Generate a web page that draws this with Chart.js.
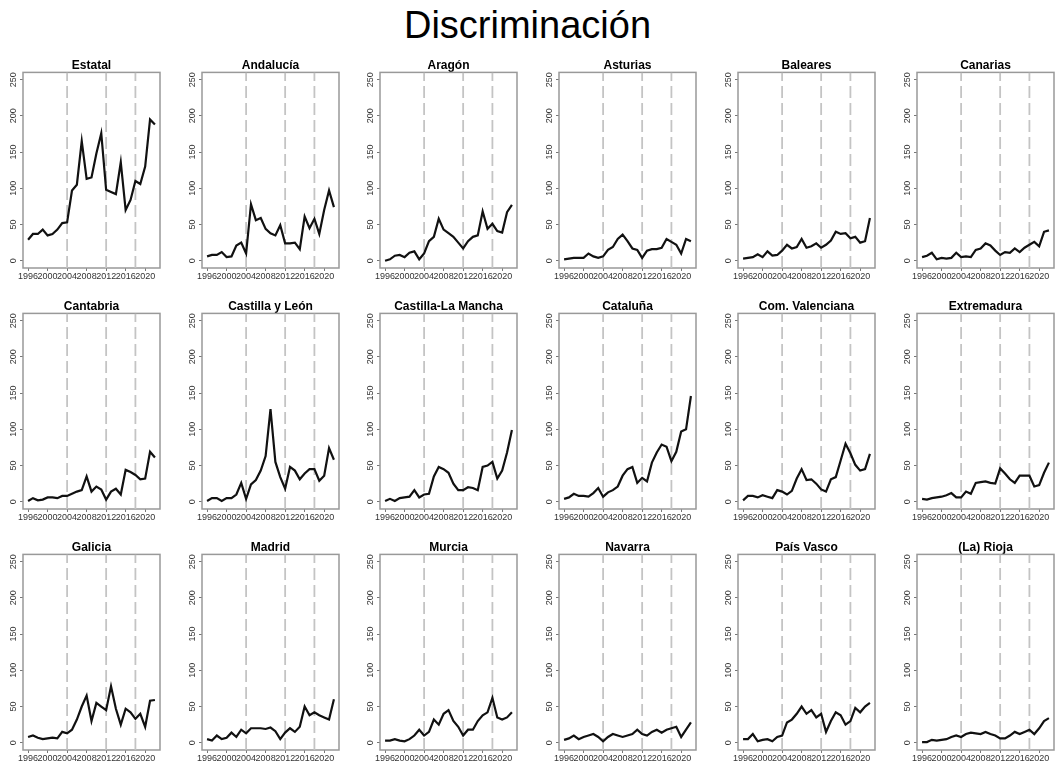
<!DOCTYPE html>
<html>
<head>
<meta charset="utf-8">
<script src="https://cdn.jsdelivr.net/npm/chart.js@4/dist/chart.umd.min.js"></script>
<style>
  html, body { margin: 0; padding: 0; background: #fff; }
  body { width: 1055px; height: 764px; position: relative; overflow: hidden; font-family: "Liberation Sans", Arial, sans-serif; }
  #mainTitle { position: absolute; left: 0; width: 1055px; top: 2px; text-align: center; font-size: 38px; line-height: 46px; color: #000; }
  canvas { position: absolute; }
</style>
</head>
<body>
<div id="mainTitle">Discriminación</div>
<script>
// ---- data ----
const years = [1996, 1997, 1998, 1999, 2000, 2001, 2002, 2003, 2004, 2005, 2006, 2007, 2008, 2009,
               2010, 2011, 2012, 2013, 2014, 2015, 2016, 2017, 2018, 2019, 2020, 2021, 2022];
const breakYears = [2004, 2012, 2018];
const xTickLabels = [1996, 2000, 2004, 2008, 2012, 2016, 2020];
const yTickValues = [0, 50, 100, 150, 200, 250];

const regions = ['Estatal', 'Andalucía', 'Aragón', 'Asturias', 'Baleares', 'Canarias',
                 'Cantabria', 'Castilla y León', 'Castilla-La Mancha', 'Cataluña', 'Com. Valenciana', 'Extremadura',
                 'Galicia', 'Madrid', 'Murcia', 'Navarra', 'País Vasco', '(La) Rioja'];

const estatal        = [29, 37, 37, 43, 35, 37, 43, 52, 53, 97, 105, 165, 113, 115, 148, 176, 98, 95, 92, 136, 70, 84, 110, 106, 130, 195, 188];
const andalucia      = [6, 8, 8, 12, 5, 6, 21, 25, 10, 78, 56, 59, 44, 38, 35, 49, 24, 24, 25, 16, 61, 45, 58, 37, 70, 97, 74];
const aragon         = [0, 2, 7, 8, 5, 11, 13, 2, 10, 27, 33, 58, 43, 38, 33, 25, 17, 27, 33, 35, 68, 44, 51, 41, 39, 67, 77];
const asturias       = [2, 3, 4, 4, 4, 10, 6, 4, 6, 15, 19, 30, 36, 27, 17, 15, 4, 14, 16, 16, 18, 30, 26, 22, 10, 30, 27];
const baleares       = [3, 4, 5, 9, 5, 13, 7, 8, 14, 22, 17, 19, 30, 18, 20, 24, 18, 22, 28, 40, 37, 38, 31, 33, 25, 27, 59];
const canarias       = [5, 7, 11, 2, 4, 3, 4, 11, 5, 6, 5, 15, 17, 24, 21, 14, 8, 12, 11, 17, 12, 18, 22, 26, 20, 40, 42];
const cantabria      = [1, 5, 2, 3, 6, 6, 5, 8, 8, 11, 14, 16, 35, 14, 21, 17, 3, 14, 18, 10, 44, 41, 37, 31, 32, 69, 61];
const castillaLeon   = [1, 5, 5, 1, 5, 5, 10, 26, 4, 24, 30, 43, 63, 128, 55, 34, 18, 48, 43, 31, 39, 45, 45, 29, 36, 74, 58];
const castillaMancha = [1, 4, 1, 5, 6, 7, 16, 6, 10, 11, 35, 48, 45, 40, 25, 16, 16, 20, 19, 16, 48, 50, 55, 32, 43, 68, 99];
const cataluna       = [4, 6, 11, 8, 8, 7, 12, 19, 7, 13, 16, 21, 36, 45, 48, 26, 33, 28, 54, 68, 79, 76, 56, 69, 97, 100, 146];
const valenciana     = [2, 8, 8, 6, 9, 7, 5, 16, 14, 10, 15, 32, 45, 30, 31, 25, 17, 14, 31, 34, 57, 80, 67, 51, 43, 45, 66];
const extremadura    = [4, 3, 5, 6, 7, 9, 12, 6, 6, 14, 11, 26, 27, 28, 26, 25, 46, 39, 31, 26, 36, 36, 36, 21, 23, 40, 54];
const galicia        = [8, 10, 7, 5, 6, 7, 6, 15, 13, 18, 32, 50, 65, 30, 55, 50, 45, 78, 47, 25, 47, 42, 33, 40, 22, 58, 59];
const madrid         = [5, 3, 10, 5, 7, 14, 8, 18, 13, 20, 20, 20, 19, 21, 16, 5, 14, 20, 15, 22, 50, 38, 42, 38, 35, 32, 60];
const murcia         = [3, 3, 5, 3, 2, 5, 10, 18, 10, 15, 32, 25, 40, 45, 30, 22, 10, 18, 18, 30, 38, 42, 62, 35, 32, 35, 42];
const navarra        = [4, 6, 10, 5, 8, 10, 12, 8, 2, 8, 12, 10, 8, 10, 12, 18, 12, 10, 15, 18, 14, 18, 20, 22, 8, 18, 28];
const paisVasco      = [5, 5, 12, 2, 4, 5, 2, 8, 10, 28, 32, 40, 50, 40, 45, 35, 40, 15, 30, 42, 38, 25, 30, 48, 42, 50, 55];
const rioja          = [1, 1, 4, 3, 4, 5, 8, 10, 8, 12, 14, 13, 12, 15, 12, 10, 6, 6, 10, 15, 12, 15, 18, 12, 20, 30, 34];

const series = [estatal, andalucia, aragon, asturias, baleares, canarias,
                cantabria, castillaLeon, castillaMancha, cataluna, valenciana, extremadura,
                galicia, madrid, murcia, navarra, paisVasco, rioja];

// ---- layout ----
const FONT = '"Liberation Sans", Arial, sans-serif';
const CANVAS_W = 178, CANVAS_H = 230;
const COL_STEP = 178.7, ROW_STEP = 241, TOP0 = 56;

const framePlugin = {
  id: 'frame',
  beforeDatasetsDraw(chart) {
    const a = chart.chartArea, ctx = chart.ctx;
    ctx.save();
    ctx.strokeStyle = '#999999';
    ctx.lineWidth = 1.5;
    ctx.strokeRect(a.left, a.top, a.right - a.left, a.bottom - a.top);
    ctx.restore();
  }
};

regions.forEach((name, i) => {
  const col = i % 6, row = Math.floor(i / 6);
  const cv = document.createElement('canvas');
  cv.width = CANVAS_W; cv.height = CANVAS_H;
  cv.style.width = CANVAS_W + 'px'; cv.style.height = CANVAS_H + 'px';
  cv.style.left = Math.round(col * COL_STEP) + 'px';
  cv.style.top = (TOP0 + row * ROW_STEP) + 'px';
  document.body.appendChild(cv);

  const datasets = [{
    data: years.map((y, k) => ({ x: y, y: series[i][k] })),
    borderColor: '#111111',
    borderWidth: 2.2,
    pointRadius: 0,
    tension: 0,
    fill: false,
    order: 0
  }];
  breakYears.forEach(b => {
    datasets.push({
      data: [{ x: b, y: -10 }, { x: b, y: 260 }],
      borderColor: '#c4c4c4',
      borderWidth: 1.8,
      borderDash: [12, 5],
      pointRadius: 0,
      fill: false,
      order: 1
    });
  });

  new Chart(cv, {
    type: 'line',
    data: { datasets },
    options: {
      responsive: false,
      animation: false,
      devicePixelRatio: 1,
      layout: { padding: { left: 0, right: 18, top: 0, bottom: 0 } },
      plugins: {
        legend: { display: false },
        tooltip: { enabled: false },
        title: {
          display: true,
          text: name,
          fullSize: false,
          color: '#000',
          font: { family: FONT, size: 12, weight: 'bold', lineHeight: 1.2 },
          padding: { top: 2, bottom: 0 }
        }
      },
      scales: {
        x: {
          type: 'linear',
          min: 1994.96,
          max: 2023.04,
          afterBuildTicks: s => { s.ticks = xTickLabels.map(v => ({ value: v })); },
          afterFit: s => { s.height = 18; },
          border: { display: false },
          grid: { drawOnChartArea: false, drawTicks: true, tickLength: 3, color: '#777777', lineWidth: 1 },
          ticks: {
            autoSkip: false, maxRotation: 0, minRotation: 0, padding: 0,
            color: '#333333',
            font: { family: FONT, size: 9 },
            callback: v => String(v)
          }
        },
        y: {
          type: 'linear',
          min: -10,
          max: 260,
          afterBuildTicks: s => { s.ticks = yTickValues.map(v => ({ value: v })); },
          afterFit: s => { s.width = 23; },
          border: { display: false },
          grid: { drawOnChartArea: false, drawTicks: true, tickLength: 3, color: '#777777', lineWidth: 1 },
          ticks: {
            autoSkip: false, minRotation: 90, maxRotation: 90, padding: -1,
            crossAlign: 'center',
            color: '#333333',
            font: { family: FONT, size: 9 },
            callback: v => String(v)
          }
        }
      }
    },
    plugins: [framePlugin]
  });
});
</script>
</body>
</html>
